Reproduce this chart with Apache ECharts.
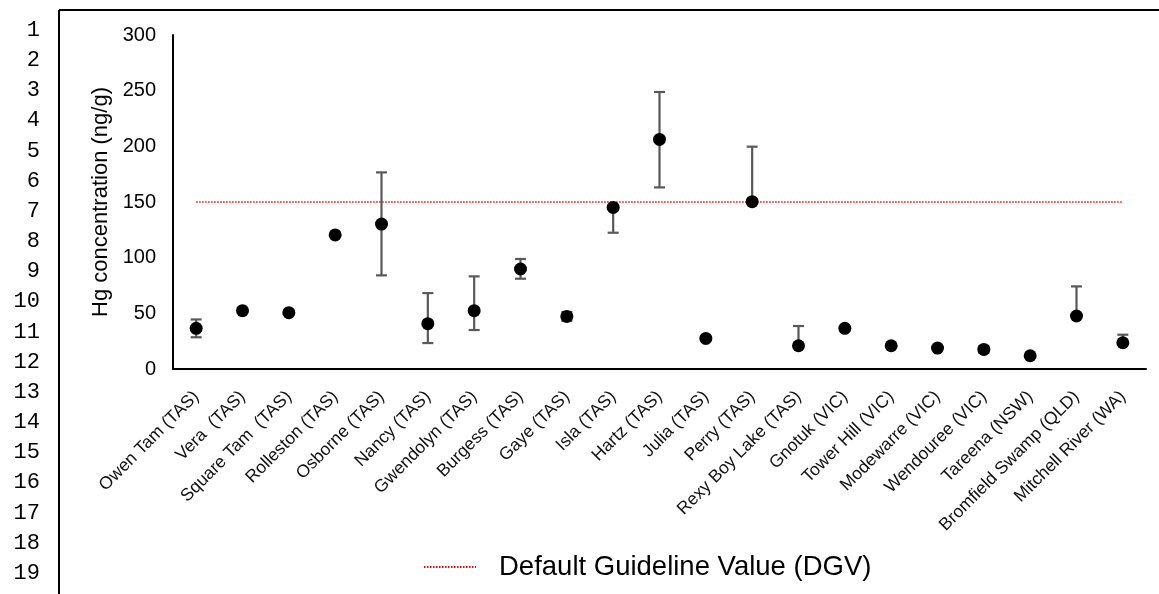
<!DOCTYPE html>
<html>
<head>
<meta charset="utf-8">
<script src="https://cdn.jsdelivr.net/npm/echarts@6/dist/echarts.min.js"></script>
<style>
html,body{margin:0;padding:0;background:#fff;}
#chart{width:1159px;height:594px;}
</style>
</head>
<body>
<div id="chart"></div>
<script>
const categories = ['Owen Tam (TAS)','Vera  (TAS)','Square Tam  (TAS)','Rolleston (TAS)','Osborne (TAS)','Nancy (TAS)','Gwendolyn (TAS)','Burgess (TAS)','Gaye (TAS)','Isla (TAS)','Hartz (TAS)','Julia (TAS)','Perry (TAS)','Rexy Boy Lake (TAS)','Gnotuk (VIC)','Tower Hill (VIC)','Modewarre (VIC)','Wendouree (VIC)','Tareena (NSW)','Bromfield Swamp (QLD)','Mitchell River (WA)'];
const hgValues = [36.5, 52.4, 50.6, 120.4, 130.2, 40.7, 52.4, 89.8, 47.2, 145.1, 206.2, 27.5, 150.3, 20.9, 36.5, 20.9, 18.8, 17.6, 11.9, 47.6, 23.6];
const errPlus  = [8, 0, 0, 0, 46.4, 27.5, 30.8, 9, 4, 0, 42.6, 0, 49.4, 17.7, 0, 0, 0, 3, 0, 26.6, 7.2];
const errMinus = [8, 0, 0, 0, 46.1, 17.4, 17.4, 8.7, 4, 22.7, 43.1, 0, 0, 0, 0, 0, 0, 3, 0, 0, 0];
const dgvValue = 150;
const yTicks = [0, 50, 100, 150, 200, 250, 300];
const lineNumbers = ['1','2','3','4','5','6','7','8','9','10','11','12','13','14','15','16','17','18','19'];

const FONT = "'Liberation Sans', Arial, sans-serif";
const errData = hgValues.map((v, i) => [i, v - errMinus[i], v + errPlus[i], v]);
const dgvData = categories.map(() => dgvValue);

const graphics = [
  {type:'line', shape:{x1:59, y1:10, x2:1159, y2:10}, style:{stroke:'#000', lineWidth:2}, silent:true},
  {type:'line', shape:{x1:59, y1:10, x2:59, y2:594}, style:{stroke:'#000', lineWidth:2}, silent:true}
];
lineNumbers.forEach((t, k) => {
  graphics.push({type:'text', x:40, y:30 + k * 30.17, silent:true,
    style:{text:t, font:"22px 'Liberation Mono', 'Courier New', monospace", fill:'#000', align:'right', verticalAlign:'middle'}});
});

const chart = echarts.init(document.getElementById('chart'), null, {renderer:'canvas'});
chart.setOption({
  animation:false,
  backgroundColor:'#fff',
  grid:{left:173, right:13, top:35, bottom:225, containLabel:false},
  legend:{
    data:['Default Guideline Value (DGV)'],
    left:423, top:553, padding:0,
    itemWidth:52, itemHeight:14,
    itemStyle:{color:'rgba(0,0,0,0)', borderWidth:0},
    textStyle:{fontFamily:FONT, fontSize:27.5, color:'#000', padding:[0,0,0,18]}
  },
  xAxis:{
    type:'category', data:categories, boundaryGap:true,
    axisLine:{lineStyle:{color:'#000', width:2}},
    axisTick:{show:false},
    axisLabel:{interval:0, rotate:45, margin:25, fontFamily:FONT, fontSize:17.5, color:'#111'}
  },
  yAxis:{
    type:'value', min:yTicks[0], max:yTicks[yTicks.length-1], interval:50,
    name:'Hg concentration (ng/g)', nameLocation:'middle', nameGap:53, nameRotate:90,
    nameTextStyle:{fontFamily:FONT, fontSize:22, color:'#000'},
    axisLine:{show:true, lineStyle:{color:'#000', width:2}},
    axisTick:{show:false},
    splitLine:{show:false},
    axisLabel:{margin:17, fontFamily:FONT, fontSize:20, color:'#000'}
  },
  graphic:graphics,
  series:[
    {
      name:'Default Guideline Value (DGV)', type:'line', data:dgvData,
      symbol:'none', lineStyle:{color:'#FF0000', width:1.6, type:[1.5,1.5]},
      itemStyle:{color:'#FF0000'}, z:2
    },
    {
      name:'Error', type:'custom', data:errData, z:3,
      renderItem:function(params, api){
        const i = api.value(0), lo = api.value(1), hi = api.value(2), v = api.value(3);
        const pLo = api.coord([i, lo]), pHi = api.coord([i, hi]);
        const hw = 5.5;
        const st = {stroke:'#595959', lineWidth:2.2};
        const ch = [{type:'line', shape:{x1:pLo[0], y1:pLo[1], x2:pHi[0], y2:pHi[1]}, style:st}];
        if (hi > v) ch.push({type:'line', shape:{x1:pHi[0]-hw, y1:pHi[1], x2:pHi[0]+hw, y2:pHi[1]}, style:st});
        if (lo < v) ch.push({type:'line', shape:{x1:pLo[0]-hw, y1:pLo[1], x2:pLo[0]+hw, y2:pLo[1]}, style:st});
        return {type:'group', children:ch};
      }
    },
    {
      name:'Hg', type:'scatter', data:hgValues, symbol:'circle', symbolSize:13,
      itemStyle:{color:'#000', opacity:1}, z:4
    }
  ]
});
</script>
</body>
</html>
